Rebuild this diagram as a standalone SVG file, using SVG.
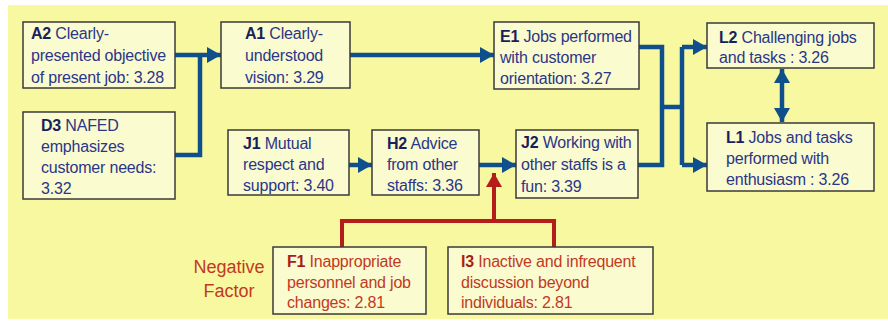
<svg xmlns="http://www.w3.org/2000/svg" width="888" height="324" viewBox="0 0 888 324">
  <defs>
    <marker id="arrBlue" markerUnits="userSpaceOnUse" markerWidth="14" markerHeight="16" refX="14" refY="8" orient="auto-start-reverse">
      <path d="M0,0 L14,8 L0,16 Z" fill="#0e4f8c"/>
    </marker>
    <marker id="arrRed" markerUnits="userSpaceOnUse" markerWidth="14" markerHeight="16" refX="14" refY="8" orient="auto">
      <path d="M0,0 L14,8 L0,16 Z" fill="#b51d1a"/>
    </marker>
    <style>
      .box { fill: #fbfbd0; stroke: #3a3a3a; stroke-width: 1.5; }
      .t { font-family: "Liberation Sans", Arial, sans-serif; font-size: 16px; letter-spacing: -0.2px; fill: #2a3688; }
      .t tspan.k { font-weight: bold; fill: #1a1f5c; }
      .r { font-family: "Liberation Sans", Arial, sans-serif; font-size: 16px; letter-spacing: -0.2px; fill: #c2391f; }
      .r tspan.k { font-weight: bold; fill: #a81e18; }
      .lb { fill: none; stroke: #0e4f8c; stroke-width: 4.5; }
      .lr { fill: none; stroke: #b51d1a; stroke-width: 4; }
      .neg { font-family: "Liberation Sans", Arial, sans-serif; font-size: 18px; fill: #c2391f; text-anchor: middle; }
    </style>
  </defs>

  <!-- panel -->
  <rect x="0" y="0" width="888" height="324" fill="#ffffff"/>
  <rect x="8" y="5" width="880" height="314" fill="#f8f8a0"/>

  <!-- connectors -->
  <g id="connectors">
    <path class="lb" d="M175,55 H221" marker-end="url(#arrBlue)"/>
    <path class="lb" d="M175,155 H200 V55"/>
    <path class="lb" d="M350,55 H494" marker-end="url(#arrBlue)"/>
    <path class="lb" d="M349,165 H372" marker-end="url(#arrBlue)"/>
    <path class="lb" d="M479,165 H516" marker-end="url(#arrBlue)"/>
    <path class="lb" d="M639,47 H662 V165 H638"/>
    <path class="lb" d="M662,107 H682"/>
    <path class="lb" d="M682,47 V165"/>
    <path class="lb" d="M682,47 H707" marker-end="url(#arrBlue)"/>
    <path class="lb" d="M682,165 H707" marker-end="url(#arrBlue)"/>
    <path class="lb" d="M782,69 V122" marker-start="url(#arrBlue)" marker-end="url(#arrBlue)"/>
    <path class="lr" d="M342,247 V221 H554 V247"/>
    <path class="lr" d="M494,221 V173" marker-end="url(#arrRed)"/>
  </g>

  <!-- nodes -->
  <g id="A2">
    <rect class="box" x="23" y="22" width="152" height="66"/>
    <text class="t" x="31" y="38.5"><tspan class="k">A2</tspan> Clearly-</text>
    <text class="t" x="31" y="60.5">presented objective</text>
    <text class="t" x="31" y="83">of present job: 3.28</text>
  </g>
  <g id="D3">
    <rect class="box" x="23" y="112" width="152" height="87"/>
    <text class="t" x="41" y="131"><tspan class="k">D3</tspan> NAFED</text>
    <text class="t" x="41" y="152">emphasizes</text>
    <text class="t" x="41" y="173">customer needs:</text>
    <text class="t" x="41" y="194">3.32</text>
  </g>
  <g id="A1">
    <rect class="box" x="221" y="22" width="129" height="66"/>
    <text class="t" x="245" y="39"><tspan class="k">A1</tspan> Clearly-</text>
    <text class="t" x="245" y="61">understood</text>
    <text class="t" x="245" y="83">vision: 3.29</text>
  </g>
  <g id="J1">
    <rect class="box" x="228" y="130" width="121" height="65"/>
    <text class="t" x="243" y="149"><tspan class="k">J1</tspan> Mutual</text>
    <text class="t" x="243" y="170">respect and</text>
    <text class="t" x="243" y="191">support: 3.40</text>
  </g>
  <g id="H2">
    <rect class="box" x="372" y="130" width="107" height="65"/>
    <text class="t" x="387" y="149"><tspan class="k">H2</tspan> Advice</text>
    <text class="t" x="387" y="170">from other</text>
    <text class="t" x="387" y="191">staffs: 3.36</text>
  </g>
  <g id="E1">
    <rect class="box" x="494" y="22" width="145" height="67"/>
    <text class="t" x="500" y="42"><tspan class="k">E1</tspan> Jobs performed</text>
    <text class="t" x="500" y="63">with customer</text>
    <text class="t" x="500" y="84">orientation: 3.27</text>
  </g>
  <g id="J2">
    <rect class="box" x="516" y="130" width="122" height="68"/>
    <text class="t" x="521" y="148"><tspan class="k">J2</tspan> Working with</text>
    <text class="t" x="521" y="170">other staffs is a</text>
    <text class="t" x="521" y="192">fun: 3.39</text>
  </g>
  <g id="L2">
    <rect class="box" x="707" y="23" width="167" height="45"/>
    <text class="t" x="719" y="43"><tspan class="k">L2</tspan> Challenging jobs</text>
    <text class="t" x="719" y="63">and tasks : 3.26</text>
  </g>
  <g id="L1">
    <rect class="box" x="707" y="123" width="167" height="68"/>
    <text class="t" x="726" y="143"><tspan class="k">L1</tspan> Jobs and tasks</text>
    <text class="t" x="726" y="164">performed with</text>
    <text class="t" x="726" y="185">enthusiasm : 3.26</text>
  </g>
  <g id="F1">
    <rect class="box" x="273" y="247" width="153" height="67"/>
    <text class="r" x="287" y="267"><tspan class="k">F1</tspan> Inappropriate</text>
    <text class="r" x="287" y="288">personnel and job</text>
    <text class="r" x="287" y="308">changes: 2.81</text>
  </g>
  <g id="I3">
    <rect class="box" x="448" y="247" width="205" height="67"/>
    <text class="r" x="461" y="267"><tspan class="k">I3</tspan> Inactive and infrequent</text>
    <text class="r" x="461" y="288">discussion beyond</text>
    <text class="r" x="461" y="308">individuals: 2.81</text>
  </g>
  <g id="negative-factor">
    <text class="neg" x="229" y="273">Negative</text>
    <text class="neg" x="229" y="297">Factor</text>
  </g>
</svg>
